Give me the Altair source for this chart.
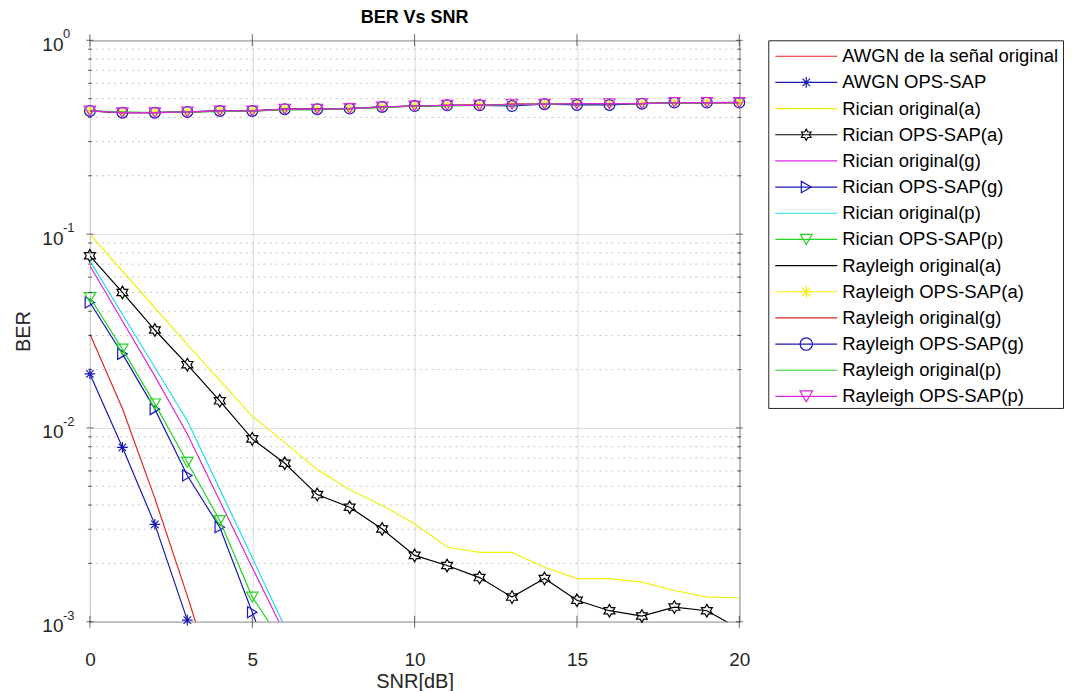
import altair as alt
import pandas as pd

FONT = "Liberation Sans"

snr = list(range(21))

awgn_orig = [0.0305, 0.0126, 0.00433, 0.00136, 0.0004]
awgn_ops = [0.019, 0.00794, 0.00318, 0.00102, 0.0002]
rician_orig_a = [0.1, 0.0645, 0.0417, 0.0269, 0.0176, 0.0115, 0.0084, 0.0061, 0.0048, 0.00398,
                 0.0032, 0.00243, 0.00228, 0.00228, 0.00191, 0.00167, 0.00167, 0.0016, 0.00145,
                 0.00134, 0.00133]
rician_ops_a = [0.0773, 0.050, 0.0320, 0.0212, 0.0138, 0.00878, 0.00657, 0.00453, 0.0039, 0.00301,
                0.0022, 0.00195, 0.00169, 0.00134, 0.00167, 0.00129, 0.00114, 0.00107, 0.00119,
                0.00114, 0.00092]
rician_orig_g = [0.0687, 0.0356, 0.0185, 0.0093, 0.0042, 0.0019, 0.00087]
rician_ops_g = [0.0444, 0.0241, 0.0125, 0.00568, 0.00307, 0.00112, 0.0004]
rician_orig_p = [0.0728, 0.0386, 0.0205, 0.0109, 0.00483, 0.00214, 0.00094]
rician_ops_p = [0.0471, 0.0255, 0.0133, 0.00665, 0.00333, 0.00134, 0.00075]

rayleigh_orig_a = [0.433, 0.424, 0.423, 0.427, 0.431, 0.432, 0.440, 0.441, 0.445, 0.452, 0.457,
                   0.461, 0.462, 0.467, 0.468, 0.470, 0.471, 0.472, 0.476, 0.477, 0.478]
rayleigh_ops_a = [0.432, 0.423, 0.423, 0.427, 0.432, 0.432, 0.441, 0.441, 0.444, 0.453, 0.458,
                  0.462, 0.462, 0.468, 0.468, 0.471, 0.471, 0.471, 0.477, 0.477, 0.477]
rayleigh_orig_g = [0.431, 0.423, 0.424, 0.426, 0.432, 0.433, 0.441, 0.442, 0.444, 0.452, 0.458,
                   0.461, 0.463, 0.468, 0.467, 0.471, 0.472, 0.471, 0.477, 0.476, 0.477]
rayleigh_ops_g = [0.432, 0.423, 0.423, 0.427, 0.432, 0.432, 0.441, 0.441, 0.444, 0.453, 0.458,
                  0.462, 0.462, 0.458, 0.468, 0.464, 0.464, 0.471, 0.477, 0.477, 0.477]
rayleigh_orig_p = [0.432, 0.428, 0.423, 0.427, 0.428, 0.432, 0.437, 0.438, 0.444, 0.449, 0.458,
                   0.458, 0.462, 0.466, 0.468, 0.471, 0.471, 0.471, 0.475, 0.477, 0.477]
rayleigh_ops_p = [0.432, 0.423, 0.423, 0.427, 0.432, 0.432, 0.441, 0.441, 0.444, 0.453, 0.458,
                  0.462, 0.462, 0.468, 0.468, 0.471, 0.471, 0.471, 0.477, 0.477, 0.477]

names = ["AWGN de la señal original", "AWGN OPS-SAP",
         "Rician original(a)", "Rician OPS-SAP(a)",
         "Rician original(g)", "Rician OPS-SAP(g)",
         "Rician original(p)", "Rician OPS-SAP(p)",
         "Rayleigh original(a)", "Rayleigh OPS-SAP(a)",
         "Rayleigh original(g)", "Rayleigh OPS-SAP(g)",
         "Rayleigh original(p)", "Rayleigh OPS-SAP(p)"]
values = [awgn_orig, awgn_ops, rician_orig_a, rician_ops_a, rician_orig_g, rician_ops_g,
          rician_orig_p, rician_ops_p, rayleigh_orig_a, rayleigh_ops_a, rayleigh_orig_g,
          rayleigh_ops_g, rayleigh_orig_p, rayleigh_ops_p]

RED, BLUE, YEL, BLK, MAG, CYN, GRN = ("#e42424", "#1a1ab4", "#f0f00c", "#000000",
                                      "#dc28dc", "#20dced", "#24d424")
colors = [RED, BLUE, YEL, BLK, MAG, BLUE, CYN, GRN, BLK, YEL, RED, BLUE, GRN, MAG]

ASTERISK = "M0,-1L0,1M-1,0L1,0M-0.7,-0.7L0.7,0.7M-0.7,0.7L0.7,-0.7"
HEXAGRAM = ("M0,-1L0.2887,-0.5L0.866,-0.5L0.5774,0L0.866,0.5L0.2887,0.5L0,1"
            "L-0.2887,0.5L-0.866,0.5L-0.5774,0L-0.866,-0.5L-0.2887,-0.5Z")
markers = [None, ASTERISK, None, HEXAGRAM, None, "triangle-right", None, "triangle-down",
           None, ASTERISK, None, "circle", None, "triangle-down"]
marker_sizes = [0, 115, 0, 160, 0, 120, 0, 130, 0, 100, 0, 115, 0, 130]

y_tick_vals = [0.001, 0.01, 0.1, 1]
y_tick_base = "10"
y_tick_exp = ["-3", "-2", "-1", "0"]
x_tick_vals = [0, 5, 10, 15, 20]
minor_vals = [m * d for d in (0.001, 0.01, 0.1) for m in range(2, 10)]
all_y_ticks = sorted(minor_vals + y_tick_vals)

W, H = 650, 582

rows = []
for name, vals in zip(names, values):
    for x, v in zip(snr, vals):
        rows.append({"name": name, "snr": x, "ber": v})
df = pd.DataFrame(rows)

TXT = "#262626"
xenc = alt.X("snr:Q", scale=alt.Scale(domain=[0, 20], nice=False, zero=False),
             axis=alt.Axis(values=x_tick_vals, title="SNR[dB]", ticks=False, tickSize=0,
                           labelFlush=False, labelPadding=29, titlePadding=2,
                           labelFontSize=19, titleFontSize=20,
                           labelFont=FONT, titleFont=FONT, titleFontWeight="normal",
                           labelColor=TXT, titleColor=TXT, domain=False,
                           grid=True, gridColor="#dcdcdc", gridWidth=1))
yscale = alt.Scale(type="log", domain=[0.001, 1], nice=False)
yenc = alt.Y("ber:Q", scale=yscale,
             axis=alt.Axis(values=y_tick_vals, labelExpr="'%s'" % y_tick_base, title="BER",
                           ticks=False, tickSize=0, labelFlush=False, labelPadding=27,
                           labelOffset=4, titlePadding=8, labelFontSize=19, titleFontSize=20,
                           labelFont=FONT, titleFont=FONT, titleFontWeight="normal",
                           labelColor=TXT, titleColor=TXT, domain=False, grid=True,
                           gridColor="#dcdcdc", gridWidth=1))

minor = alt.Chart(pd.DataFrame({"ber": minor_vals})).mark_rule(
    color="#c6c6c6", strokeWidth=1, strokeDash=[2, 4]).encode(y=yenc)

exps = alt.Chart(pd.DataFrame({"ber": y_tick_vals, "e": y_tick_exp})).mark_text(
    align="left", baseline="middle", fontSize=13, font=FONT, color=TXT, dy=-6
).encode(y=yenc, x=alt.value(-27), text="e:N")

yt = pd.DataFrame({"ber": all_y_ticks,
                   "len": [7 if v in y_tick_vals else 4 for v in all_y_ticks]})
ytick_l = alt.Chart(yt).mark_tick(color=TXT, thickness=1).encode(
    y=yenc, x=alt.value(0), size=alt.Size("len:Q", scale=None))
ytick_r = alt.Chart(yt).mark_tick(color=TXT, thickness=1).encode(
    y=yenc, x=alt.value(W), size=alt.Size("len:Q", scale=None))
xt = pd.DataFrame({"snr": x_tick_vals})
xtick_b = alt.Chart(xt).mark_tick(color=TXT, thickness=1, size=12).encode(
    x=xenc, y=alt.value(H))
xtick_t = alt.Chart(xt).mark_tick(color=TXT, thickness=1, size=12).encode(
    x=xenc, y=alt.value(0))

layers = [minor, exps]
base = alt.Chart(df)
for name, col, mk, sz in zip(names, colors, markers, marker_sizes):
    sel = base.transform_filter(alt.datum.name == name)
    layers.append(sel.mark_line(color=col, strokeWidth=1.2, clip=True).encode(x=xenc, y=yenc))
    if mk is not None:
        layers.append(sel.transform_filter(alt.datum.ber >= 0.00099).mark_point(
            shape=mk, color=col, size=sz, strokeWidth=1.2, filled=False, opacity=1
        ).encode(x=xenc, y=yenc))
layers += [ytick_l, ytick_r, xtick_b, xtick_t]

main = alt.layer(*layers).properties(
    width=W, height=H,
    title=alt.TitleParams("BER Vs SNR", fontSize=18, fontWeight="bold", font=FONT,
                          offset=1, anchor="middle", color="#000000"))

# legend panel
leg_df = pd.DataFrame({"name": names, "row": list(range(len(names)))})
mk_names = [n for n, m in zip(names, markers) if m is not None]
mk_shapes = [m for m in markers if m is not None]
mk_sizes = [s for s, m in zip(marker_sizes, markers) if m is not None]
leg_y = alt.Y("row:Q", scale=alt.Scale(domain=[-0.61, 13.44], reverse=True, nice=False, zero=False),
              axis=None)
leg_color = alt.Color("name:N", scale=alt.Scale(domain=names, range=colors), legend=None)
leg_base = alt.Chart(leg_df)
leg_lines = leg_base.mark_rule(strokeWidth=1.2).encode(
    x=alt.value(7), x2=alt.value(69), y=leg_y, color=leg_color)
leg_pts = leg_base.transform_filter(
    alt.FieldOneOfPredicate(field="name", oneOf=mk_names)).mark_point(
    filled=False, strokeWidth=1.2, opacity=1).encode(
    x=alt.value(38), y=leg_y, color=leg_color,
    shape=alt.Shape("name:N", scale=alt.Scale(domain=mk_names, range=mk_shapes), legend=None),
    size=alt.Size("name:N", scale=alt.Scale(domain=mk_names, range=mk_sizes), legend=None))
leg_txt = leg_base.mark_text(align="left", baseline="middle", fontSize=18.5, font=FONT,
                             color="#000000").encode(x=alt.value(74), y=leg_y, text="name:N")
legend = alt.layer(leg_lines, leg_pts, leg_txt).properties(width=295, height=368)

chart = alt.hconcat(main, legend, spacing=29, bounds="flush").properties(
    background="white",
    padding={"left": 5, "top": 0, "right": 0, "bottom": 0}
).configure_view(stroke="#262626", strokeWidth=1)

chart.save("out.html", embed_options={"renderer": "svg", "actions": False})
